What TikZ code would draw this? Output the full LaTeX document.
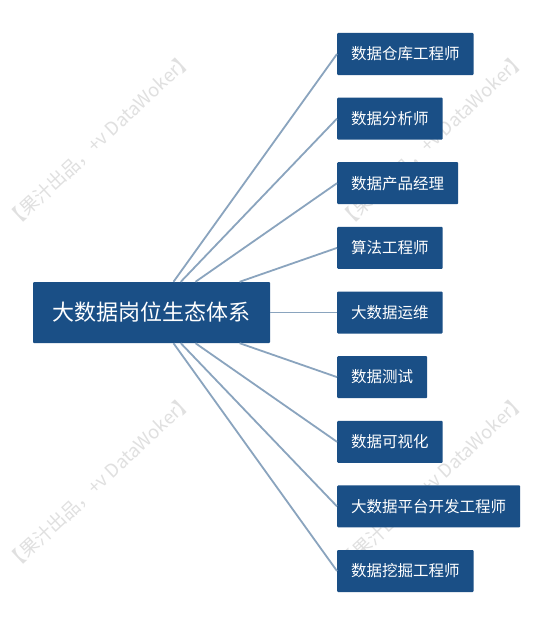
\documentclass[tikz,border=0pt]{standalone}
\usepackage{fontspec}
\newfontfamily\cjk{Noto Sans CJK SC}
\definecolor{boxblue}{RGB}{26,79,134}
\definecolor{linkblue}{RGB}{138,164,190}
\definecolor{wmgray}{RGB}{224,224,224}
\begin{document}
\begin{tikzpicture}[x=1pt,y=-1pt,
  mainbox/.style={rectangle, fill=boxblue, text=white, rounded corners=1pt,
    minimum width=237pt, minimum height=61pt, inner sep=0pt,
    font=\cjk\fontsize{22}{24}\selectfont},
  rolebox/.style={rectangle, fill=boxblue, text=white, rounded corners=1pt,
    anchor=west, minimum height=42pt, inner xsep=14pt, inner ysep=0pt,
    font=\cjk\fontsize{15.5}{18}\selectfont},
  conn/.style={draw=linkblue, line width=1.8pt},
  wmark/.style={rotate=43, text=wmgray, inner sep=0pt,
    font=\cjk\fontsize{18.5}{19}\selectfont}]
\useasboundingbox (0,0) rectangle (554,626);
\fill[white] (0,0) rectangle (554,626);
% watermarks
\node[wmark] (w1) at (100,140) {【果汁出品，+v DataWoker】};
\node[wmark] (w2) at (433,140) {【果汁出品，+v DataWoker】};
\node[wmark] (w3) at (100,482) {【果汁出品，+v DataWoker】};
\node[wmark] (w4) at (433,482) {【果汁出品，+v DataWoker】};
% nodes
\node[mainbox] (main) at (151.5,312.5) {大数据岗位生态体系};
\node[rolebox] (r1) at (337,54) {数据仓库工程师};
\node[rolebox] (r2) at (337,118.6) {数据分析师};
\node[rolebox] (r3) at (337,183.2) {数据产品经理};
\node[rolebox] (r4) at (337,247.9) {算法工程师};
\node[rolebox] (r5) at (337,312.5) {大数据运维};
\node[rolebox] (r6) at (337,377.1) {数据测试};
\node[rolebox] (r7) at (337,441.8) {数据可视化};
\node[rolebox] (r8) at (337,506.4) {大数据平台开发工程师};
\node[rolebox] (r9) at (337,571) {数据挖掘工程师};
% connectors
\foreach \r in {r1,r2,r3,r4,r5,r6,r7,r8,r9}
  \draw[conn] (main) -- (\r.west);
\end{tikzpicture}
\end{document}
